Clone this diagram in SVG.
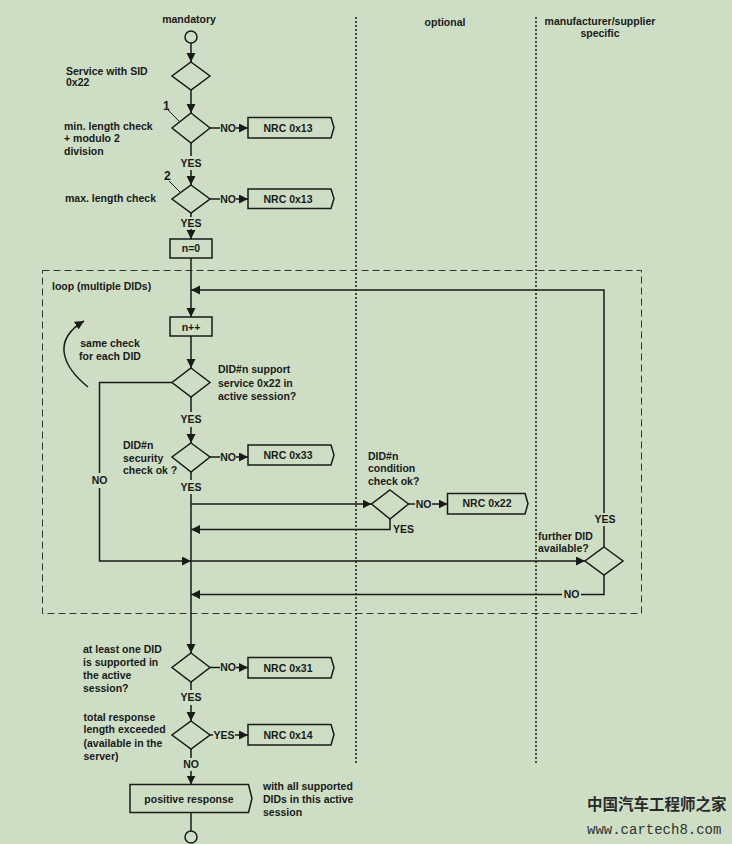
<svg xmlns="http://www.w3.org/2000/svg" width="732" height="844" viewBox="0 0 732 844">
<defs>
<marker id="ah" markerUnits="userSpaceOnUse" markerWidth="10" markerHeight="10" refX="9" refY="4.5" orient="auto">
<path d="M0,0 L9,4.5 L0,9 Z" fill="#1a1a1a"/>
</marker>
<style>
.t{font-family:"Liberation Sans",Arial,sans-serif;font-weight:bold;font-size:10.5px;fill:#1a1a1a}
.m{text-anchor:middle}
.s{fill:none;stroke:#1a1a1a;stroke-width:1.5}
.c{fill:none;stroke:#1a1a1a;stroke-width:1.5}
.a{marker-end:url(#ah)}
.dot{fill:none;stroke:#1a1a1a;stroke-width:1.5;stroke-dasharray:2 2}
.dash{fill:none;stroke:#333;stroke-width:1;stroke-dasharray:7 4}
</style>
</defs>
<rect width="732" height="844" fill="#cddec4"/>

<g id="lanes">
<line class="dot" x1="356" y1="17" x2="356" y2="765"/>
<line class="dot" x1="536" y1="17" x2="536" y2="765"/>
<text class="t m" x="189" y="23">mandatory</text>
<text class="t m" x="445" y="25.5">optional</text>
<text class="t m" x="600" y="24.5">manufacturer/supplier</text>
<text class="t m" x="600" y="36.5">specific</text>
</g>

<g id="loop">
<rect class="dash" x="42.5" y="270.5" width="599" height="343"/>
<text class="t" x="52" y="289.5">loop (multiple DIDs)</text>
</g>

<g id="start"><circle class="s" cx="191" cy="37" r="6"/></g>

<g id="sid">
<polygon class="s" points="191,62 210,76 191,90 172,76"/>
<text class="t" x="66" y="74.5">Service with SID</text>
<text class="t" x="66" y="86">0x22</text>
</g>

<g id="minlen">
<polygon class="s" points="191,113 210,128 191,143 172,128"/>
<text class="t" x="64" y="129.5">min. length check</text>
<text class="t" x="64" y="142">+ modulo 2</text>
<text class="t" x="64" y="155">division</text>
<text class="t" x="163" y="109.5" style="font-size:12px">1</text>
<line class="c" x1="168" y1="110" x2="180" y2="122" style="stroke-width:1"/>
</g>

<g id="nrc13a">
<path class="s" d="M248,117.5 H331 L334,127.5 L331,138 H248 Z"/>
<text class="t m" x="288" y="131.5">NRC 0x13</text>
</g>

<g id="maxlen">
<polygon class="s" points="191,185 210,199 191,213 172,199"/>
<text class="t" x="65" y="202">max. length check</text>
<text class="t" x="164" y="180" style="font-size:12px">2</text>
<line class="c" x1="169" y1="181" x2="180" y2="192" style="stroke-width:1"/>
</g>

<g id="nrc13b">
<path class="s" d="M248,189 H331 L334,198.5 L331,208.5 H248 Z"/>
<text class="t m" x="288" y="202.5">NRC 0x13</text>
</g>

<g id="n0">
<rect class="s" x="170" y="239" width="42" height="19"/>
<text class="t m" x="191" y="252">n=0</text>
</g>

<g id="ninc">
<rect class="s" x="170" y="317" width="42" height="19"/>
<text class="t m" x="191" y="330.5">n++</text>
</g>

<g id="samecheck">
<path class="c a" d="M88,387 C62,366 52,340 84,321"/>
<text class="t m" x="110" y="346.5">same check</text>
<text class="t m" x="110" y="359.5">for each DID</text>
</g>

<g id="support">
<polygon class="s" points="191,368 210,382.5 191,397 172,382.5"/>
<text class="t" x="218" y="373">DID#n support</text>
<text class="t" x="218" y="386.5">service 0x22 in</text>
<text class="t" x="218" y="399.5">active session?</text>
</g>

<g id="security">
<polygon class="s" points="191,443 210,457 191,472 172,457"/>
<text class="t" x="123" y="449">DID#n</text>
<text class="t" x="123" y="461.5">security</text>
<text class="t" x="123" y="474">check ok ?</text>
</g>

<g id="nrc33">
<path class="s" d="M248,445 H331 L334,455 L331,465 H248 Z"/>
<text class="t m" x="288" y="459">NRC 0x33</text>
</g>

<g id="condition">
<polygon class="s" points="390,490 408.5,504 390,519 371.5,504"/>
<text class="t" x="368" y="459.5">DID#n</text>
<text class="t" x="368" y="471.5">condition</text>
<text class="t" x="368" y="484.5">check ok?</text>
</g>

<g id="nrc22">
<path class="s" d="M447.5,493.5 H525 L528,503.5 L525,514 H447.5 Z"/>
<text class="t m" x="487" y="507">NRC 0x22</text>
</g>

<g id="further">
<polygon class="s" points="604,547 623,561 604,575 585,561"/>
<text class="t" x="538" y="539.5">further DID</text>
<text class="t" x="538" y="552">available?</text>
</g>

<g id="atleast">
<polygon class="s" points="191,653 210,667.5 191,682 172,667.5"/>
<text class="t" x="83" y="653">at least one DID</text>
<text class="t" x="83" y="666">is supported in</text>
<text class="t" x="83" y="678.5">the active</text>
<text class="t" x="83" y="691.5">session?</text>
</g>

<g id="nrc31">
<path class="s" d="M248,657.5 H331 L334,667.5 L331,678 H248 Z"/>
<text class="t m" x="288" y="671.5">NRC 0x31</text>
</g>

<g id="total">
<polygon class="s" points="191,721 210,735 191,749 172,735"/>
<text class="t" x="83.5" y="720.5">total response</text>
<text class="t" x="83.5" y="733">length exceeded</text>
<text class="t" x="83.5" y="746.5">(available in the</text>
<text class="t" x="83.5" y="759.5">server)</text>
</g>

<g id="nrc14">
<path class="s" d="M248,724.5 H331 L334,734.5 L331,745 H248 Z"/>
<text class="t m" x="288" y="738.5">NRC 0x14</text>
</g>

<g id="positive">
<path class="s" d="M130,784.5 H248.5 L252,798.5 L248.5,812.5 H130 Z"/>
<text class="t m" x="189" y="802.5">positive response</text>
<text class="t" x="263" y="789.5">with all supported</text>
<text class="t" x="263" y="802.5">DIDs in this active</text>
<text class="t" x="263" y="815.5">session</text>
</g>

<g id="end"><circle class="s" cx="191" cy="837" r="6"/></g>

<g id="connectors">
<line class="c a" x1="191" y1="43" x2="191" y2="62"/>
<line class="c a" x1="191" y1="90" x2="191" y2="113"/>
<line class="c" x1="210" y1="128" x2="220" y2="128"/>
<line class="c a" x1="236" y1="128" x2="248" y2="128"/>
<line class="c" x1="191" y1="143" x2="191" y2="156"/>
<line class="c a" x1="191" y1="170" x2="191" y2="185"/>
<line class="c" x1="210" y1="199" x2="220" y2="199"/>
<line class="c a" x1="236" y1="199" x2="248" y2="199"/>
<line class="c" x1="191" y1="213" x2="191" y2="217"/>
<line class="c a" x1="191" y1="229" x2="191" y2="239"/>
<line class="c a" x1="191" y1="258" x2="191" y2="317"/>
<line class="c" x1="604" y1="547" x2="604" y2="526"/>
<polyline class="c a" points="604,513 604,290 191,290"/>
<line class="c a" x1="191" y1="336" x2="191" y2="368"/>
<line class="c" x1="191" y1="397" x2="191" y2="412"/>
<line class="c a" x1="191" y1="427" x2="191" y2="443"/>
<polyline class="c" points="172,382.5 99.5,382.5 99.5,473"/>
<polyline class="c a" points="99.5,488 99.5,561 191,561"/>
<line class="c a" x1="191" y1="561" x2="585" y2="561"/>
<line class="c" x1="210" y1="457" x2="220" y2="457"/>
<line class="c a" x1="236" y1="457" x2="248" y2="457"/>
<line class="c" x1="191" y1="472" x2="191" y2="480"/>
<line class="c a" x1="191" y1="494" x2="191" y2="653"/>
<line class="c a" x1="191" y1="504" x2="371.5" y2="504"/>
<line class="c" x1="408.5" y1="504" x2="415" y2="504"/>
<line class="c a" x1="432" y1="504" x2="447.5" y2="504"/>
<polyline class="c a" points="390,519 390,529.5 191,529.5"/>
<polyline class="c" points="604,575 604,594.5 581,594.5"/>
<line class="c a" x1="562" y1="594.5" x2="191" y2="594.5"/>
<line class="c" x1="210" y1="667.5" x2="220" y2="667.5"/>
<line class="c a" x1="236" y1="667.5" x2="248" y2="667.5"/>
<line class="c" x1="191" y1="682" x2="191" y2="690"/>
<line class="c a" x1="191" y1="705" x2="191" y2="721"/>
<line class="c" x1="210" y1="735" x2="213" y2="735"/>
<line class="c a" x1="235" y1="735" x2="248" y2="735"/>
<line class="c" x1="191" y1="749" x2="191" y2="758"/>
<line class="c a" x1="191" y1="771" x2="191" y2="784.5"/>
<line class="c" x1="191" y1="812.5" x2="191" y2="831"/>
</g>

<g id="labels">
<text class="t m" x="228" y="131.5">NO</text>
<text class="t m" x="191" y="167">YES</text>
<text class="t m" x="228" y="202.5">NO</text>
<text class="t m" x="191" y="226.5">YES</text>
<text class="t m" x="191" y="423">YES</text>
<text class="t m" x="99.5" y="484">NO</text>
<text class="t m" x="228" y="460.5">NO</text>
<text class="t m" x="191" y="490.5">YES</text>
<text class="t m" x="423.5" y="507.5">NO</text>
<text class="t" x="393" y="533">YES</text>
<text class="t m" x="605" y="523">YES</text>
<text class="t m" x="571.5" y="598">NO</text>
<text class="t m" x="228" y="671">NO</text>
<text class="t m" x="191" y="701">YES</text>
<text class="t m" x="224" y="738.5">YES</text>
<text class="t m" x="191" y="768">NO</text>
</g>

<g id="watermark">
<text x="587" y="810" style="font-family:'Noto Sans CJK SC',sans-serif;font-weight:bold;font-size:15.5px;fill:#2a2a2a">中国汽车工程师之家</text>
<text x="587" y="834" style="font-family:'Liberation Mono','DejaVu Sans Mono',monospace;font-size:14px;fill:#333">www.cartech8.com</text>
</g>
</svg>
